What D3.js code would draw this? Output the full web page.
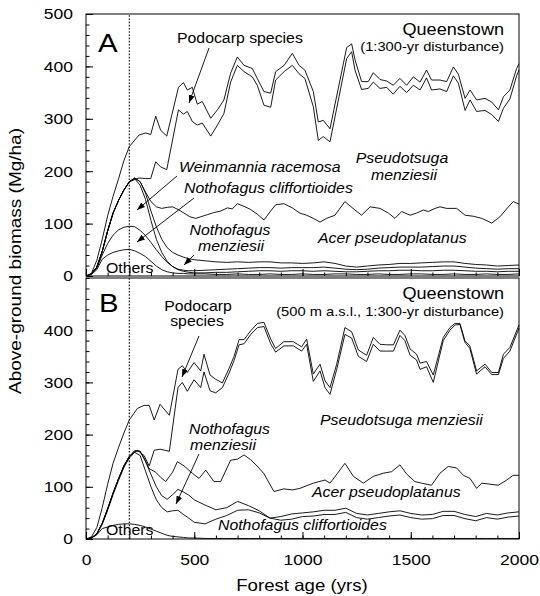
<!DOCTYPE html>
<html lang="en">
<head>
<meta charset="utf-8"/>
<title>Queenstown biomass</title>
<script src="https://cdnjs.cloudflare.com/ajax/libs/d3/7.8.5/d3.min.js"></script>
<style>
  body {margin:0; background:#fff;}
  svg text {font-family:"Liberation Sans", Arial, Helvetica, sans-serif; fill:#000;}
  .sp {font-style:italic;}
</style>
</head>
<body>
<svg id="chart" width="540" height="596"></svg>
<script>
// ---- panel A : Queenstown, 1:300-yr disturbance (cumulative biomass, Mg/ha)
var yrsA = [0,25,50,75,100,125,150,175,200,245,276,299,322,345,373,427,450,468,491,514,537,
  576,607,637,668,699,730,768,791,822,853,876,915,953,984,1011,1050,1073,1096,1127,1204,1227,
  1243,1273,1304,1327,1358,1389,1419,1450,1481,1512,1543,1573,1596,1635,1666,1697,1720,1751,
  1774,1804,1843,1874,1905,1928,1958,1989,2000];
var allA = [0,5,30,70,115,152,185,220,247,269,273,270,305,278,267,360,369,355,360,328,333,
  301,317,336,387,418,402,396,377,352,349,390,402,425,402,393,352,294,297,281,436,443,
  412,371,371,388,375,372,364,377,364,380,370,393,374,374,371,399,385,339,
  355,336,339,332,317,342,355,396,405];
var pseudoA = [0,4,17,47,86,120,144,164,180,187,186,186,218,208,203,317,309,314,295,288,292,
  267,288,310,370,402,390,380,364,326,322,374,390,402,386,377,323,259,266,256,415,428,
  392,356,358,370,358,360,347,362,350,364,355,378,355,357,352,382,368,316,
  336,314,316,308,295,320,338,382,393];
var yrsAcerA = [0,25,50,75,100,125,150,175,200,225,250,275,300,325,350,375,400,425,453,480,
  507,530,560,590,622,653,676,699,730,760,791,822,853,876,914,953,988,1019,1050,1081,1111,
  1150,1196,1242,1273,1312,1358,1397,1427,1458,1497,1527,1558,1581,1612,1635,1666,1712,
  1751,1789,1828,1874,1912,1951,1974,2000];
var acerA = [0,4,17,47,86,120,144,164,180,187,180,160,142,132,129,131,132,127,120,113,
  110,113,117,121,124,130,128,138,133,127,118,107,124,136,138,130,120,116,110,103,110,
  116,142,126,116,132,129,120,110,123,116,120,126,123,129,132,129,129,
  116,114,110,101,113,132,142,137];
var yrsLow = [0,25,50,75,100,125,150,175,200,225,250,275,300,325,350,375,400,425,450,475,500,
  550,600,650,700,750,800,850,900,950,1000,1050,1100,1150,1200,1250,1300,1350,1400,1450,1500,
  1550,1600,1650,1700,1750,1800,1850,1900,1950,2000];
var nmenzA = [0,4,17,47,86,120,144,164,180,187,180,158,124,94,70,54,45,40,36,33,31,
  29,27,26,27,26,27,27,25,25,24,25,27,24,19,17,19,21,22,24,24,
  25,26,27,27,24,22,21,19,20,21];
var weinA = [0,4,17,47,86,120,144,164,179,186,173,146,106,70,45,28,18,13,11,10,10,
  11,12,13,14,15,16,16,15,16,16,16,17,15,13,12,13,15,16,17,17,
  17,18,19,19,17,15,14,13,14,14];
var cliffA = [0,4,15,40,62,78,88,93,95,94,87,77,64,50,37,26,18,12,9,7,6,
  6,7,7,8,9,10,10,9,10,10,9,10,9,8,8,9,10,10,11,11,
  10,10,11,11,10,9,9,8,9,9];
var othersA = [0,3,12,32,40,45,48,50,51,48,43,37,28,19,12,8,6,5,5,4,4,
  4,3,3,4,3,3,4,3,3,4,3,3,4,4,3,3,4,3,3,4,
  4,3,3,4,3,3,4,3,3,4];

// ---- panel B : Queenstown, 500 m a.s.l., 1:300-yr disturbance
var yrsB = [0,25,50,75,100,125,150,175,200,237,268,292,315,342,385,425,445,468,499,530,545,
  573,599,630,661,684,707,730,761,792,822,853,876,914,958,996,1019,1050,1081,1104,1127,1158,
  1196,1227,1258,1296,1327,1358,1389,1420,1450,1473,1497,1527,1543,1573,1604,1650,1681,1704,
  1727,1750,1773,1804,1843,1874,1905,1928,1958,2000];
var allB = [0,4,22,60,105,145,175,203,228,250,256,256,228,258,237,325,332,319,338,322,354,
  314,306,299,327,350,382,382,399,413,415,383,365,378,378,368,383,316,335,303,290,335,
  405,397,362,352,386,373,372,372,400,390,364,354,337,340,314,386,405,413,
  413,380,370,322,335,319,319,354,367,410];
var pseudoB = [0,2,10,30,58,88,115,140,158,170,160,140,170,172,168,290,300,283,305,290,320,
  284,280,290,318,342,372,374,392,405,407,374,358,370,370,360,373,302,322,290,277,325,
  392,385,350,340,373,360,360,360,390,380,352,343,325,330,300,380,400,410,
  411,377,365,316,330,315,315,346,360,404];
var yrsAcerB = [0,25,50,75,100,125,150,175,200,225,250,275,291,322,345,368,400,422,453,491,
  522,553,591,622,668,700,730,760,790,822,868,914,953,988,1050,1104,1127,1160,1196,1235,
  1281,1327,1373,1412,1450,1480,1519,1550,1596,1635,1673,1712,1743,1774,1804,1828,1866,
  1904,1940,1973,2000];
var acerB = [0,2,10,30,58,88,115,140,158,169,168,150,135,128,118,110,128,148,140,126,
  116,132,110,110,151,153,161,152,140,125,91,96,94,97,107,113,107,125,145,120,
  107,120,126,129,142,125,110,107,103,126,139,136,122,116,97,107,105,
  103,112,122,122];
var nmenzB = [0,2,10,30,58,88,115,140,158,169,168,148,124,100,83,76,85,95,90,84,75,
  65,56,60,72,64,54,40,43,48,50,52,55,55,59,49,46,49,52,54,49,
  46,47,53,53,47,43,49,46,50,52];
var lowB = [0,2,9,28,55,85,112,137,155,166,160,130,100,75,60,52,54,55,47,40,32,
  29,38,45,55,56,50,40,36,38,43,44,47,47,51,41,38,41,44,46,41,
  38,39,45,45,39,35,41,38,42,44];
var othersB = [0,2,8,20,23,26,28,29,29,28,26,23,19,15,11,7,5,4,3,2,2,
  1,1,1,1,1,1,1,1,1,1,1,1,1,1,1,1,1,1,1,1,
  1,1,1,1,1,1,1,1,1,1];

var xTicks = d3.range(0, 2001, 100);
var xLabels = [0, 500, 1000, 1500, 2000];

var svg = d3.select("#chart");
var x = d3.scaleLinear().domain([0, 2000]).range([86, 519]);
var yA = d3.scaleLinear().domain([0, 500]).range([276, 14]);
var yB = d3.scaleLinear().domain([0, 500]).range([539, 278]);

svg.append("defs").append("marker")
  .attr("id", "head").attr("markerUnits", "userSpaceOnUse")
  .attr("markerWidth", 8).attr("markerHeight", 6)
  .attr("refX", 8).attr("refY", 3).attr("orient", "auto")
  .append("path").attr("d", "M0,0L8,3L0,6Z").attr("fill", "#000");

function drawPanel(y, series, labelTicks) {
  // curves
  series.forEach(function(s) {
    var line = d3.line()
      .x(function(d, i) { return x(s[0][i]); })
      .y(function(d) { return y(d); });
    svg.append("path").datum(s[1])
      .attr("d", line)
      .attr("fill", "none").attr("stroke", "#000").attr("stroke-width", 0.9);
  });
  // dotted line at 200 yrs
  svg.append("line")
    .attr("x1", x(200)).attr("x2", x(200))
    .attr("y1", y(0)).attr("y2", y(500))
    .attr("stroke", "#000").attr("stroke-width", 1.1)
    .attr("stroke-dasharray", "1.6,1.6");
  // y ticks
  var gy = svg.append("g").attr("transform", "translate(" + x(0) + ",0)");
  gy.call(d3.axisLeft(y).tickValues(d3.range(0, 501, 20)).tickSize(-3.5).tickFormat(""));
  var gy2 = svg.append("g").attr("transform", "translate(" + x(0) + ",0)");
  gy2.call(d3.axisLeft(y).tickValues(labelTicks).tickSize(-7).tickPadding(13));
  // x ticks
  var gx = svg.append("g").attr("transform", "translate(0," + y(0) + ")");
  gx.call(d3.axisBottom(x).tickValues(xTicks).tickSize(-3.5).tickFormat(""));
  var gx2 = svg.append("g").attr("transform", "translate(0," + y(0) + ")");
  gx2.call(d3.axisBottom(x).tickValues(xLabels).tickSize(-7).tickFormat(""));
  svg.selectAll(".domain").remove();
  gy2.selectAll("text").style("font-size", "15.5px");
  // frame
  svg.append("rect")
    .attr("x", x(0)).attr("y", y(500))
    .attr("width", x(2000) - x(0)).attr("height", y(0) - y(500))
    .attr("fill", "none").attr("stroke", "#000").attr("stroke-width", 1);
}

drawPanel(yA, [
  [yrsA, allA], [yrsA, pseudoA], [yrsAcerA, acerA],
  [yrsLow, nmenzA], [yrsLow, weinA], [yrsLow, cliffA], [yrsLow, othersA]
], [0, 100, 200, 300, 400, 500]);

drawPanel(yB, [
  [yrsB, allB], [yrsB, pseudoB], [yrsAcerB, acerB],
  [yrsLow, nmenzB], [yrsLow, lowB], [yrsLow, othersB]
], [0, 100, 200, 300, 400]);

// x tick labels under panel B
var gxl = svg.append("g").attr("transform", "translate(0," + yB(0) + ")");
gxl.call(d3.axisBottom(x).tickValues(xLabels).tickSize(0).tickPadding(15).tickFormat(d3.format("d")));
gxl.select(".domain").remove();
gxl.selectAll("text").style("font-size", "15.5px");

function label(txt, lx, ly, anchor, size, italic) {
  return svg.append("text")
    .attr("class", italic ? "sp" : null)
    .attr("x", lx).attr("y", ly)
    .attr("text-anchor", anchor)
    .style("font-size", size + "px")
    .text(txt);
}
function arrow(x1, y1, x2, y2) {
  svg.append("line")
    .attr("x1", x1).attr("y1", y1).attr("x2", x2).attr("y2", y2)
    .attr("stroke", "#000").attr("stroke-width", 0.9)
    .attr("marker-end", "url(#head)");
}

// panel A annotations
label("A", 98, 52, "start", 26);
label("Queenstown", 504, 35, "end", 16);
label("(1:300-yr disturbance)", 504, 51, "end", 13);
label("Podocarp species", 177, 43, "start", 14);
label("Weinmannia racemosa", 179, 172, "start", 14, true);
label("Nothofagus cliffortioides", 184, 193, "start", 14, true);
label("Pseudotsuga", 402, 163, "middle", 14, true);
label("menziesii", 404, 180, "middle", 14, true);
label("Nothofagus", 230, 235, "middle", 14, true);
label("menziesii", 231, 251, "middle", 14, true);
label("Acer pseudoplatanus", 318, 243, "start", 14, true);
label("Others", 106, 273, "start", 14);
arrow(209, 48, 189, 103);
arrow(177, 176, 137, 210);
arrow(194, 198, 137, 242);
arrow(194, 255, 184, 265);

// panel B annotations
label("B", 99, 312, "start", 26);
label("Queenstown", 504, 299, "end", 16);
label("(500 m a.s.l., 1:300-yr disturbance)", 504, 316, "end", 13);
label("Podocarp", 198, 311, "middle", 14);
label("species", 197, 326, "middle", 14);
label("Nothofagus", 189, 434, "start", 14, true);
label("menziesii", 190, 450, "start", 14, true);
label("Pseudotsuga menziesii", 320, 425, "start", 14, true);
label("Acer pseudoplatanus", 312, 497, "start", 14, true);
label("Nothofagus cliffortioides", 218, 530, "start", 14, true);
label("Others", 106, 535, "start", 14);
arrow(199, 336, 182, 377);
arrow(199, 454, 176, 504);

// axis titles
label("Forest age (yrs)", 302, 591, "middle", 16.5);
svg.append("text")
  .attr("transform", "translate(21,261) rotate(-90)")
  .attr("text-anchor", "middle")
  .style("font-size", "17px")
  .attr("textLength", 266).attr("lengthAdjust", "spacingAndGlyphs")
  .text("Above-ground biomass (Mg/ha)");

// the lettering in the figure is a little wider than the font
svg.selectAll("text").each(function() {
  if (this.getAttribute("textLength")) return;
  var w = this.getComputedTextLength();
  if (w > 0) {
    this.setAttribute("textLength", (w * 1.13).toFixed(1));
    this.setAttribute("lengthAdjust", "spacingAndGlyphs");
  }
});
</script>
</body>
</html>
